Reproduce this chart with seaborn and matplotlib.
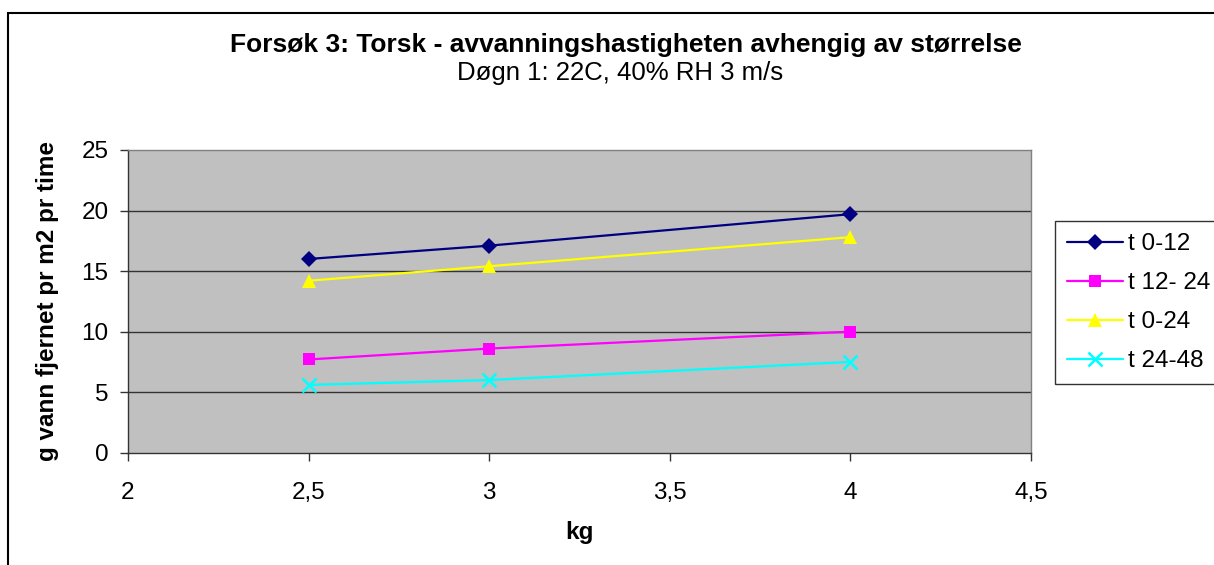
import numpy as np
import pandas as pd
import matplotlib
matplotlib.use('Agg')
import matplotlib.pyplot as plt
import seaborn as sns
from matplotlib.patches import Rectangle

# Data
kg = [2.5, 3.0, 4.0]
t_0_12 = [16.0, 17.1, 19.7]
t_12_24 = [7.7, 8.6, 10.0]
t_0_24 = [14.2, 15.4, 17.8]
t_24_48 = [5.6, 6.0, 7.5]

series_names = ['t 0-12', 't 12- 24', 't 0-24', 't 24-48']
x_ticks = [2, 2.5, 3, 3.5, 4, 4.5]
x_ticklabels = ['2', '2,5', '3', '3,5', '4', '4,5']
y_ticks = [0, 5, 10, 15, 20, 25]

df = pd.DataFrame({
    'kg': kg * 4,
    'verdi': t_0_12 + t_12_24 + t_0_24 + t_24_48,
    'serie': np.repeat(series_names, len(kg)),
})

sns.set_theme(style='white')
plt.rcParams['font.family'] = ['Liberation Sans', 'DejaVu Sans']
plt.rcParams['text.color'] = 'black'
plt.rcParams['axes.labelcolor'] = 'black'

fs = 17.5

fig = plt.figure(figsize=(12.14, 5.65), dpi=100)
ax = fig.add_axes([128 / 1214, 1 - 452.7 / 565, (1031 - 128) / 1214, (452.7 - 150) / 565])
ax.set_facecolor('#C0C0C0')

palette = {'t 0-12': '#000080', 't 12- 24': '#FF00FF', 't 0-24': '#FFFF00', 't 24-48': '#00FFFF'}
markers = {'t 0-12': 'D', 't 12- 24': 's', 't 0-24': '^', 't 24-48': 'x'}
sizes = {'t 0-12': 8.5, 't 12- 24': 9, 't 0-24': 10.5, 't 24-48': 10}

for name in series_names:
    sub = df[df['serie'] == name]
    sns.lineplot(data=sub, x='kg', y='verdi', ax=ax, color=palette[name],
                 marker=markers[name], markersize=sizes[name], linewidth=1.6,
                 markeredgecolor=palette[name], markeredgewidth=1.8 if name == 't 24-48' else 0,
                 label=name, zorder=3)

ax.set_xlim(2, 4.5)
ax.set_ylim(0, 25)
ax.set_xticks(x_ticks)
ax.set_xticklabels(x_ticklabels)
ax.set_yticks(y_ticks)
for yv in y_ticks[1:-1]:
    ax.axhline(yv, color='#333333', linewidth=1, zorder=1)

for s in ['top', 'right']:
    ax.spines[s].set_color('#808080')
    ax.spines[s].set_linewidth(1)
for s in ['left', 'bottom']:
    ax.spines[s].set_color('#333333')
    ax.spines[s].set_linewidth(1)

ax.tick_params(axis='both', direction='out', length=6, width=1, color='#333333',
               labelsize=fs, labelcolor='black', bottom=True, left=True)
ax.tick_params(axis='x', pad=15)
ax.tick_params(axis='y', pad=8)

ax.set_xlabel('kg', fontsize=fs, fontweight='bold', va='center')
ax.set_ylabel('g vann fjernet pr m2 pr time', fontsize=fs, fontweight='bold', va='center')
ax.xaxis.set_label_coords(0.5, (452.7 - 533) / 302.7)
ax.yaxis.set_label_coords((48 - 128) / 903, 0.5)

fig.text(626 / 1214, 1 - 45 / 565, 'Forsøk 3: Torsk - avvanningshastigheten avhengig av størrelse',
         ha='center', va='center', fontsize=19, fontweight='bold')
fig.text(620 / 1214, 1 - 73 / 565, 'Døgn 1: 22C, 40% RH 3 m/s',
         ha='center', va='center', fontsize=18.5)

leg = ax.legend(loc='upper left', bbox_to_anchor=(1055 / 1214, 1 - 221 / 565),
                bbox_transform=fig.transFigure, frameon=True, fancybox=False,
                fontsize=fs, handlelength=2.3, handletextpad=0.22, labelspacing=0.7,
                borderpad=0.5, borderaxespad=0)
leg.get_frame().set_edgecolor('black')
leg.get_frame().set_linewidth(1)
leg.get_frame().set_facecolor('white')

fig.patches.append(Rectangle((8 / 1214, -0.1), 1.2, 1 - 13 / 565 + 0.1,
                             transform=fig.transFigure, fill=False, edgecolor='black',
                             linewidth=1.5, clip_on=False))

fig.savefig('out.png', dpi=100, facecolor='white')
